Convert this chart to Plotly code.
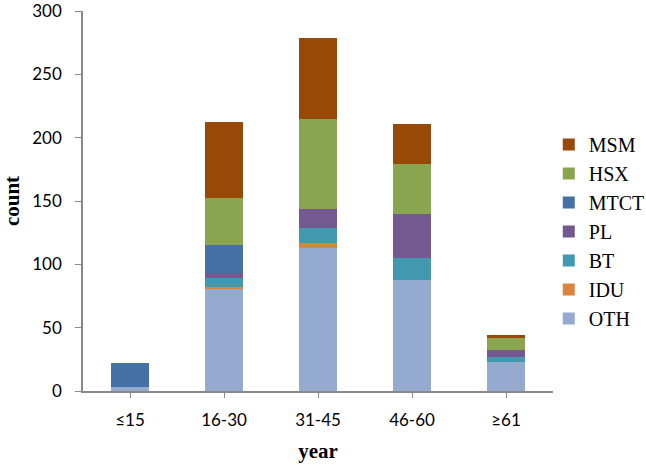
import plotly.graph_objects as go

categories = ["≤15", "16-30", "31-45", "46-60", "≥61"]
OTH = [3, 81, 113, 88, 23]
IDU = [0, 1, 4, 0, 0]
BT = [0, 7, 12, 17, 4]
PL = [0, 4, 15, 35, 5]
MTCT = [19, 22, 0, 0, 0]
HSX = [0, 37, 71, 39, 10]
MSM = [0, 60, 64, 32, 2]

series = [
    ("OTH", OTH, "#95AACF"),
    ("IDU", IDU, "#DA843E"),
    ("BT", BT, "#4298AE"),
    ("PL", PL, "#735990"),
    ("MTCT", MTCT, "#4472A6"),
    ("HSX", HSX, "#8AA54F"),
    ("MSM", MSM, "#984807"),
]

fig = go.Figure()
for name, vals, col in series:
    fig.add_trace(go.Bar(x=categories, y=vals, name=name, width=0.4,
                         marker=dict(color=col, line=dict(width=0))))

axis_col = "#888888"
fig.update_layout(
    barmode="stack",
    width=646, height=466,
    margin=dict(l=83, r=93, t=11, b=75, autoexpand=False),
    plot_bgcolor="white", paper_bgcolor="white",
    legend=dict(traceorder="reversed", x=0.991, xanchor="left", y=0.70, yanchor="top",
                font=dict(family="Liberation Serif", size=20, color="black"),
                bgcolor="rgba(0,0,0,0)"),
    xaxis=dict(showline=True, linecolor=axis_col, linewidth=1.5, ticks="outside",
               tickcolor=axis_col, ticklen=5, ticklabelstandoff=8,
               tickfont=dict(family="Lato", size=17, color="black"),
               title=dict(text="<b>year</b>", standoff=14,
                          font=dict(family="Liberation Serif", size=21, color="black"))),
    yaxis=dict(range=[0, 300], tickvals=[0, 50, 100, 150, 200, 250, 300],
               showline=True, linecolor=axis_col, linewidth=1.5,
               ticks="outside", tickcolor=axis_col, ticklen=6, ticklabelstandoff=10,
               ticklabeloverflow="allow",
               showgrid=False, zeroline=False,
               tickfont=dict(family="Lato", size=17, color="black"),
               title=dict(text="<b>count</b>", standoff=14,
                          font=dict(family="Liberation Serif", size=21, color="black"))),
)

fig.write_html("out.html", config={"displayModeBar": False},
               post_script="document.body.style.margin='0';document.body.style.overflow='hidden';")
